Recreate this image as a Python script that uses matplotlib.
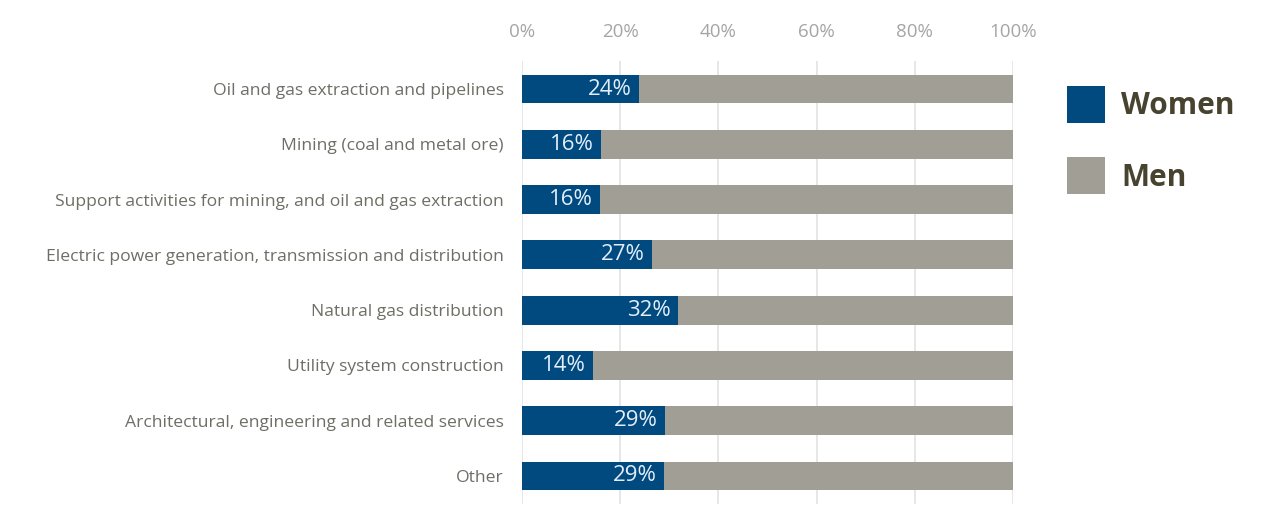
import matplotlib
matplotlib.use("Agg")
import matplotlib.pyplot as plt
from matplotlib.patches import Patch

categories = [
    "Oil and gas extraction and pipelines",
    "Mining (coal and metal ore)",
    "Support activities for mining, and oil and gas extraction",
    "Electric power generation, transmission and distribution",
    "Natural gas distribution",
    "Utility system construction",
    "Architectural, engineering and related services",
    "Other",
]
women = [23.8, 16.1, 15.9, 26.5, 31.8, 14.5, 29.1, 28.9]
women_labels = ["24%", "16%", "16%", "27%", "32%", "14%", "29%", "29%"]
men = [100 - w for w in women]
ticks = [0, 20, 40, 60, 80, 100]
tick_labels = ["0%", "20%", "40%", "60%", "80%", "100%"]

BLUE = "#004a80"
GREY = "#a19f95"

plt.rcParams['font.family'] = ['Open Sans', 'DejaVu Sans']

fig = plt.figure(figsize=(12.7, 5.27), dpi=100)
ax = fig.add_axes([522/1270, 1 - 503.6/527, (1013-522)/1270, (503.6-61.4)/527])

y = list(range(len(categories)))
ax.barh(y, women, height=0.52, color=BLUE, zorder=3)
ax.barh(y, men, left=women, height=0.52, color=GREY, zorder=3)
for yi, w, lab in zip(y, women, women_labels):
    ax.text(w - 1.5, yi, lab, ha='right', va='center', color='#e3eef9',
            fontsize=16, zorder=4)

ax.set_ylim(len(categories) - 0.5, -0.5)
ax.set_xlim(0, 100)
ax.set_yticks(y)
ax.set_yticklabels(categories, fontsize=12.6, color='#6f6e66')
ax.set_xticks(ticks)
ax.set_xticklabels(tick_labels, fontsize=13.5, color='#a5a5a5')
ax.xaxis.tick_top()
ax.tick_params(axis='both', length=0)
ax.tick_params(axis='x', pad=15)
ax.tick_params(axis='y', pad=13)
for s in ax.spines.values():
    s.set_visible(False)
ax.grid(axis='x', color='#e3e3e3', linewidth=1.2, zorder=0)
ax.set_axisbelow(True)

handles = [Patch(facecolor=BLUE, edgecolor='none', label='Women'),
           Patch(facecolor=GREY, edgecolor='none', label='Men')]
leg = fig.legend(handles=handles, loc='upper left', bbox_to_anchor=(1067/1270, 1 - 86/527),
                 frameon=False, handlelength=1.27, handleheight=1.52, handletextpad=0.55,
                 labelspacing=1.16, borderpad=0, borderaxespad=0,
                 prop={'family': ['Open Sans', 'DejaVu Sans'],
                       'weight': 'bold', 'size': 21.5})
for t in leg.get_texts():
    t.set_color('#48432f')

fig.savefig("out.png", dpi=100, facecolor='white')
